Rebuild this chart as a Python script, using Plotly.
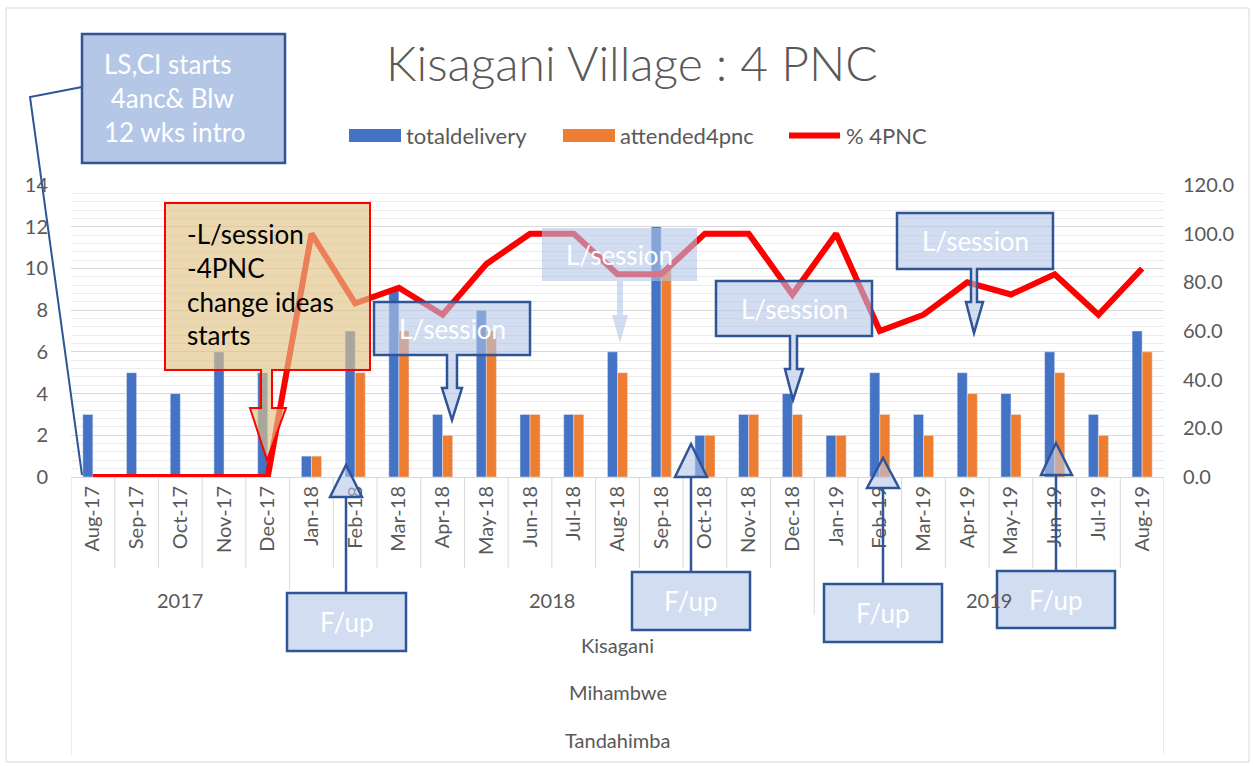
import plotly.graph_objects as go

# ---------------- data ----------------
months = ["Aug-17", "Sep-17", "Oct-17", "Nov-17", "Dec-17",
          "Jan-18", "Feb-18", "Mar-18", "Apr-18", "May-18", "Jun-18", "Jul-18",
          "Aug-18", "Sep-18", "Oct-18", "Nov-18", "Dec-18",
          "Jan-19", "Feb-19", "Mar-19", "Apr-19", "May-19", "Jun-19", "Jul-19", "Aug-19"]
totaldelivery = [3, 5, 4, 6, 5, 1, 7, 9, 3, 8, 3, 3, 6, 12, 2, 3, 4, 2, 5, 3, 5, 4, 6, 3, 7]
attended4pnc = [0, 0, 0, 0, 0, 1, 5, 7, 2, 7, 3, 3, 5, 10, 2, 3, 3, 2, 3, 2, 4, 3, 5, 2, 6]
pct_4pnc = [0, 0, 0, 0, 0, 100, 71.4, 77.8, 66.7, 87.5, 100, 100, 83.3, 83.3, 100, 100, 75,
            100, 60, 66.7, 80, 75, 83.3, 66.7, 85.7]
years = ["2017", "2018", "2019"]
year_centers = [2, 10.5, 20.5]
year_breaks = [4.5, 16.5]
levels = ["Kisagani", "Mihambwe", "Tandahimba"]

# ---------------- style ----------------
FONT = "Lato"
GREY = "#595959"
BLUE = "#4472c4"
ORANGE = "#ed7d31"
RED = "#ff0000"
DARKBLUE = "#2f5597"
BOXFILL = "rgba(180,199,231,0.6)"
W, H = 1253, 766
L, R, T, B = 71, 1164, 185, 477


def X(p):
    return (p - L) / (R - L)


def Y(p):
    return (B - p) / (B - T)


def path(pts, close=True):
    s = "M " + " L ".join(f"{X(a):.5f},{Y(b):.5f}" for a, b in pts)
    return s + (" Z" if close else "")


def note(x, y, text, size=20, color=GREY, xref="paper", xanchor="center", align="center", **kw):
    annotations.append(dict(x=x, y=y, xref=xref, yref="paper", text=text, showarrow=False,
                            xanchor=xanchor, yanchor="middle", align=align,
                            font=dict(family=FONT, size=size, color=color, **kw)))


fig = go.Figure()
fig.add_trace(go.Bar(x=months, y=totaldelivery, name="totaldelivery", marker_color=BLUE))
fig.add_trace(go.Bar(x=months, y=attended4pnc, name="attended4pnc", marker_color=ORANGE))
fig.add_trace(go.Scatter(x=months, y=pct_4pnc, name="% 4PNC", yaxis="y2", mode="lines",
                         line=dict(color=RED, width=6)))

shapes = []
annotations = []

# outer chart border
shapes.append(dict(type="rect", xref="paper", yref="paper", x0=X(6), x1=X(1249), y0=Y(8), y1=Y(762),
                   line=dict(color="#d9d9d9", width=1), layer="below"))

# category axis separators
n = len(months)
for i in range(n + 1):
    xb = i - 0.5
    if i == 0 or i == n:
        yb = Y(755)
    elif xb == year_breaks[0]:
        yb = Y(590)
    elif xb == year_breaks[1]:
        yb = Y(615)
    else:
        yb = Y(568)
    shapes.append(dict(type="line", xref="x", yref="paper", x0=xb, x1=xb, y0=0, y1=yb,
                       line=dict(color="#d9d9d9", width=1), layer="below"))

# year labels + hierarchy labels
for yr, c in zip(years, year_centers):
    note(c, Y(600), yr, xref="x")
for lab, yy in zip(levels, [645, 692, 740]):
    note(X((L + R) / 2), Y(yy), lab)

# title
note(X(632), Y(62), "Kisagani Village : 4 PNC", size=48, weight=300)

# manual legend
shapes.append(dict(type="rect", xref="paper", yref="paper", x0=X(349), x1=X(401), y0=Y(129), y1=Y(142),
                   fillcolor=BLUE, line=dict(width=0)))
shapes.append(dict(type="rect", xref="paper", yref="paper", x0=X(563), x1=X(615), y0=Y(129), y1=Y(142),
                   fillcolor=ORANGE, line=dict(width=0)))
shapes.append(dict(type="line", xref="paper", yref="paper", x0=X(789), x1=X(840), y0=Y(135.5), y1=Y(135.5),
                   line=dict(color=RED, width=6)))
for txt, xx in [("totaldelivery", 404), ("attended4pnc", 618), ("% 4PNC", 844)]:
    note(X(xx), Y(135), txt, size=22, xanchor="left")

# LS,CI box with connector
shapes.append(dict(type="path", xref="paper", yref="paper",
                   path=path([(82, 87), (30, 97), (82, 475)], close=False),
                   line=dict(color=DARKBLUE, width=2)))
shapes.append(dict(type="rect", xref="paper", yref="paper", x0=X(82), x1=X(285), y0=Y(34), y1=Y(163),
                   fillcolor="#b4c7e7", line=dict(color=DARKBLUE, width=2.5)))
note(X(102), Y(98), "LS,CI starts<br> 4anc& Blw<br>12 wks intro", size=26, color="white",
     xanchor="left", align="left")

# red callout
shapes.append(dict(type="path", xref="paper", yref="paper",
                   path=path([(165, 203), (370, 203), (370, 370), (272, 370), (272, 408), (286, 408),
                              (267, 460), (250, 408), (261, 408), (261, 370), (165, 370)]),
                   fillcolor="rgba(225,195,135,0.65)", line=dict(color=RED, width=2)))
note(X(185), Y(284), "-L/session<br>-4PNC<br>change ideas<br>starts", size=26, color="black",
     xanchor="left", align="left")


# L/session down-arrow callouts
def down_callout(x0, y0, x1, y1, s0, s1, neck, h0, h1, tx, ty, border=True):
    pts = [(x0, y0), (x1, y0), (x1, y1), (s1, y1), (s1, neck), (h1, neck), (tx, ty),
           (h0, neck), (s0, neck), (s0, y1), (x0, y1)]
    shapes.append(dict(type="path", xref="paper", yref="paper", path=path(pts), fillcolor=BOXFILL,
                       line=dict(color=DARKBLUE if border else "rgba(0,0,0,0)", width=2.5 if border else 0)))
    note(X((x0 + x1) / 2), Y((y0 + y1) / 2), "L/session", size=26, color="white")


down_callout(374, 302, 530, 355, 447, 457, 388, 442, 462, 452, 420)
down_callout(542, 228, 697, 281, 617, 623, 315, 612, 628, 620, 343, border=False)
down_callout(716, 281, 872, 336, 790, 797, 369, 785, 803, 793, 400)
down_callout(897, 213, 1053, 269, 971, 977, 302, 966, 983, 974, 333)


# F/up up-arrow callouts
def up_callout(x0, y0, x1, y1, sx, base, h0, h1, tip):
    shapes.append(dict(type="line", xref="paper", yref="paper", x0=X(sx), x1=X(sx), y0=Y(y0), y1=Y(base),
                       line=dict(color=DARKBLUE, width=2.5)))
    shapes.append(dict(type="path", xref="paper", yref="paper",
                       path=path([(h0, base), (sx, tip), (h1, base)]), fillcolor=BOXFILL,
                       line=dict(color=DARKBLUE, width=2.5)))
    shapes.append(dict(type="rect", xref="paper", yref="paper", x0=X(x0), x1=X(x1), y0=Y(y0), y1=Y(y1),
                       fillcolor=BOXFILL, line=dict(color=DARKBLUE, width=2.5)))
    note(X((x0 + x1) / 2), Y((y0 + y1) / 2), "F/up", size=26, color="white")


up_callout(287, 593, 406, 651, 346, 497, 330, 362, 465)
up_callout(632, 572, 750, 630, 691, 477, 675, 707, 444)
up_callout(824, 584, 942, 642, 883, 488, 867, 899, 458)
up_callout(997, 571, 1115, 628, 1056, 475, 1041, 1072, 443)

fig.update_layout(
    width=W, height=H,
    margin=dict(l=L, r=W - R, t=T, b=H - B, pad=0),
    paper_bgcolor="white", plot_bgcolor="white",
    showlegend=False,
    barmode="group", bargap=0.54, bargroupgap=0,
    font=dict(family=FONT, color=GREY, size=20),
    xaxis=dict(type="category", tickangle=-90, tickfont=dict(size=20, color=GREY), showgrid=False,
               showline=True, linecolor="#d9d9d9", linewidth=1, ticks="", range=[-0.5, n - 0.5],
               fixedrange=True),
    yaxis=dict(range=[0, 14], dtick=2, tickfont=dict(size=20, color=GREY), gridcolor="#d9d9d9",
               zeroline=False, showline=False, ticklabelstandoff=22,
               minor=dict(dtick=0.4, showgrid=True, gridcolor="#ebebeb")),
    yaxis2=dict(range=[0, 120], dtick=20, tickformat=".1f", overlaying="y", side="right",
                showgrid=False, zeroline=False, tickfont=dict(size=20, color=GREY), ticklabelstandoff=18),
    shapes=shapes,
    annotations=annotations,
)

fig.write_html("out.html", config={"displayModeBar": False},
               post_script="document.body.style.margin='0';document.body.style.overflow='hidden';"
                           "document.documentElement.style.overflow='hidden';")
